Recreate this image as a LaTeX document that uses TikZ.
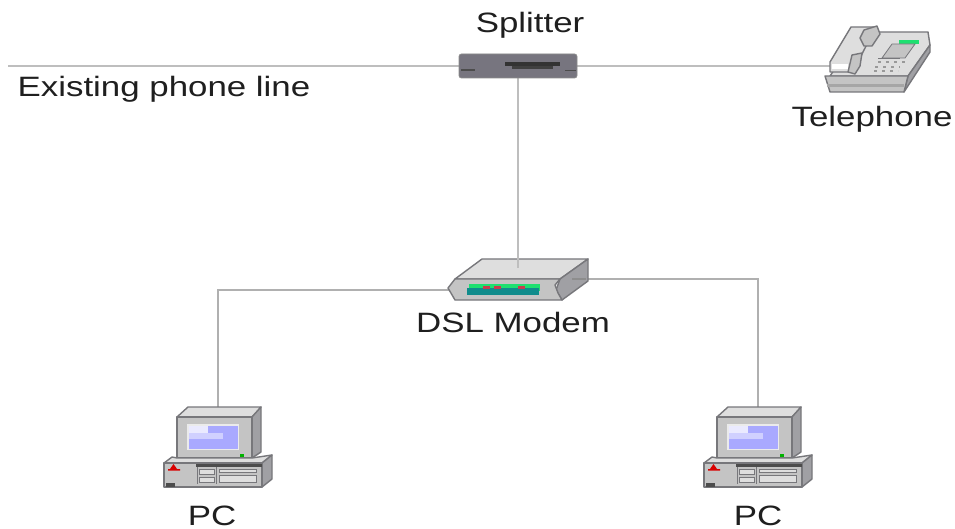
\documentclass[tikz,border=0pt]{standalone}
\usepackage{fontspec}
\setmainfont{Liberation Sans}
\newfontfamily\lblfont[FakeStretch=1.245]{Liberation Sans}
\definecolor{linegray}{HTML}{BEBEBE}
\definecolor{thingray}{HTML}{B0B0B0}
\definecolor{outl}{HTML}{77777B}
\definecolor{bodyl}{HTML}{DEDEDE}
\definecolor{bodym}{HTML}{C4C4C4}
\definecolor{bodyd}{HTML}{A0A0A4}
\definecolor{screen}{HTML}{A9A9FF}
\definecolor{splitgray}{HTML}{77757F}
\definecolor{ledgreen}{HTML}{1EE070}
\definecolor{ledteal}{HTML}{108C8C}
\definecolor{ledred}{HTML}{C83C50}
\tikzset{
  lbl/.style={font=\lblfont\fontsize{28}{32}\selectfont, text=black!88, inner sep=0pt, anchor=base},
  phoneline/.style={draw=linegray, line width=2.8pt},
  lanline/.style={draw=thingray, line width=1.5pt},
  shell/.style={draw=outl, line width=1.4pt, line join=round},
  anchorpt/.style={inner sep=0pt, minimum size=0pt},
}
\newcommand{\pcicon}[1]{%
\begin{scope}[shift={(#1)}]
  % monitor
  \fill[shell, fill=bodyl] (177,417) -- (188,407) -- (261,407) -- (252,417) -- cycle;
  \fill[shell, fill=bodyd] (252,417) -- (261,407) -- (261,452) -- (252,458) -- cycle;
  \fill[shell, fill=bodym] (177,417) -- (252,417) -- (252,458) -- (177,458) -- cycle;
  \fill[bodyl!60!white] (187,424) rectangle (239,450);
  \fill[screen] (189,426) rectangle (238,449);
  \fill[white!75!screen] (189,426) rectangle (208,436);
  \fill[white!45!screen] (189,433) rectangle (223,439);
  \fill[green!70!black] (240,454) rectangle (244,457);
  % base
  \fill[shell, fill=bodyl] (164,463) -- (172,457) -- (177,458) -- (252,458) -- (272,455) -- (262,463) -- cycle;
  \fill[shell, fill=bodyd] (262,463) -- (272,455) -- (272,479) -- (262,487) -- cycle;
  \fill[shell, fill=bodym] (164,463) -- (262,463) -- (262,487) -- (164,487) -- cycle;
  \fill[red!85!black] (170,469) -- (173.5,464) -- (177,469) -- (180,469) -- (180,470.5) -- (168,470.5) -- (168,469) -- cycle;
  \fill[black!70] (196,464) rectangle (262,467);
  \draw[outl, line width=1pt] (197,467) -- (197,484) (216,467) -- (216,484);
  \draw[outl, fill=bodyl, line width=0.8pt] (199,469) rectangle (214,474);
  \draw[outl, fill=bodyl, line width=0.8pt] (199,477) rectangle (214,482);
  \draw[outl, fill=bodyl, line width=0.8pt] (219,469) rectangle (256,472);
  \draw[outl, fill=bodyl, line width=0.8pt] (219,475) rectangle (256,482);
  \fill[black!70] (166,483) rectangle (175,487);
\end{scope}}
\begin{document}
\begin{tikzpicture}[x=1pt,y=-1pt]
\useasboundingbox (0,0) rectangle (955,529);
\fill[white] (0,0) rectangle (955,529);

% anchor points
\coordinate (lineend) at (8,66);
\node[anchorpt] (splitter) at (518,66) {};
\node[anchorpt] (phone) at (832,66) {};
\node[anchorpt] (modem) at (518,268) {};
\node[anchorpt] (pcleft) at (218,407) {};
\node[anchorpt] (pcright) at (758,408) {};
\coordinate (modemleft) at (450,290);
\coordinate (modemright) at (586,279);

% connectors
\draw[phoneline] (lineend) -- (splitter);
\draw[phoneline] (splitter) -- (phone);
\draw[lanline] (modemleft) -| (pcleft);
\draw[lanline] (modemright) -| (pcright);

% modem
\fill[shell, fill=bodyl] (455,279) -- (482,259) -- (588,259) -- (560,279) -- cycle;
\fill[shell, fill=bodyd] (560,279) -- (588,259) -- (588,281) -- (562,300) -- (556,290) -- cycle;
\fill[shell, fill=bodym] (455,279) -- (560,279) -- (555,285) -- (558,293) -- (562,300) -- (455,300) -- (448,288) -- cycle;
\fill[ledgreen] (469,284) rectangle (540,291);
\fill[ledteal] (467,288) rectangle (539,295);
\fill[ledred] (483,286) rectangle (490,288.5);
\fill[ledred] (494,286) rectangle (501,288.5);
\fill[ledred] (518,286) rectangle (525,288.5);
\draw[lanline, draw=thingray!80!black] (572,279) -- (modemright);

% splitter and drop to modem
\draw[phoneline] (splitter) -- (modem);
\fill[draw=black!45, line width=0.8pt, fill=splitgray, rounded corners=2.5pt] (459,54) rectangle (577,78);
\fill[black!80] (505,62) rectangle (560,66);
\fill[black!75] (512,66) rectangle (553,69);
\fill[black!70] (461,69.5) rectangle (475,71);
\fill[black!70] (565,70) rectangle (576,71.5);

% telephone
\fill[shell, fill=bodyl] (860,32) -- (928,32) -- (930,45) -- (908,76) -- (830,76) -- cycle;
\fill[shell, fill=bodyd] (930,45) -- (930,52) -- (904,92) -- (908,76) -- cycle;
\fill[shell, fill=bodym] (825,76) -- (908,76) -- (904,92) -- (830,92) -- cycle;
\fill[black!35] (827,84) rectangle (904,87);
\fill[shell, fill=bodyl] (830,62) -- (851,27) -- (876,27) -- (864,50) -- (858,62) -- (856,72) -- (830,72) -- cycle;
\fill[shell, fill=bodym] (864,30) -- (877,26) -- (880,34) -- (872,46) -- (864,46) -- (860,38) -- cycle;
\fill[shell, fill=bodym] (852,55) -- (862,53) -- (860,66) -- (855,74) -- (848,72) -- cycle;
\fill[white] (832,64) rectangle (848,69);
\fill[ledgreen] (899,40) rectangle (919,44);
\fill[bodym, draw=outl, line width=0.8pt] (892,44) -- (915,44) -- (905,58) -- (882,58) -- cycle;
\draw[outl, line width=0.8pt] (878,58) -- (900,58);
\draw[black!40, line width=1.4pt, dash pattern=on 3pt off 5pt] (878,62) -- (905,62) (875,67) -- (900,67) (874,71) -- (898,71);

% PCs
\pcicon{0,0}
\pcicon{540,0}

% labels
\node[lbl] (tsplit) at (530,33) {Splitter};
\node[lbl] (texist) at (164,97) {Existing phone line};
\node[lbl] (ttel) at (872,127) {Telephone};
\node[lbl] (tdsl) at (513,332) {DSL Modem};
\node[lbl] (tpc1) at (212,525) {PC};
\node[lbl] (tpc2) at (758,525) {PC};
\end{tikzpicture}
\end{document}
